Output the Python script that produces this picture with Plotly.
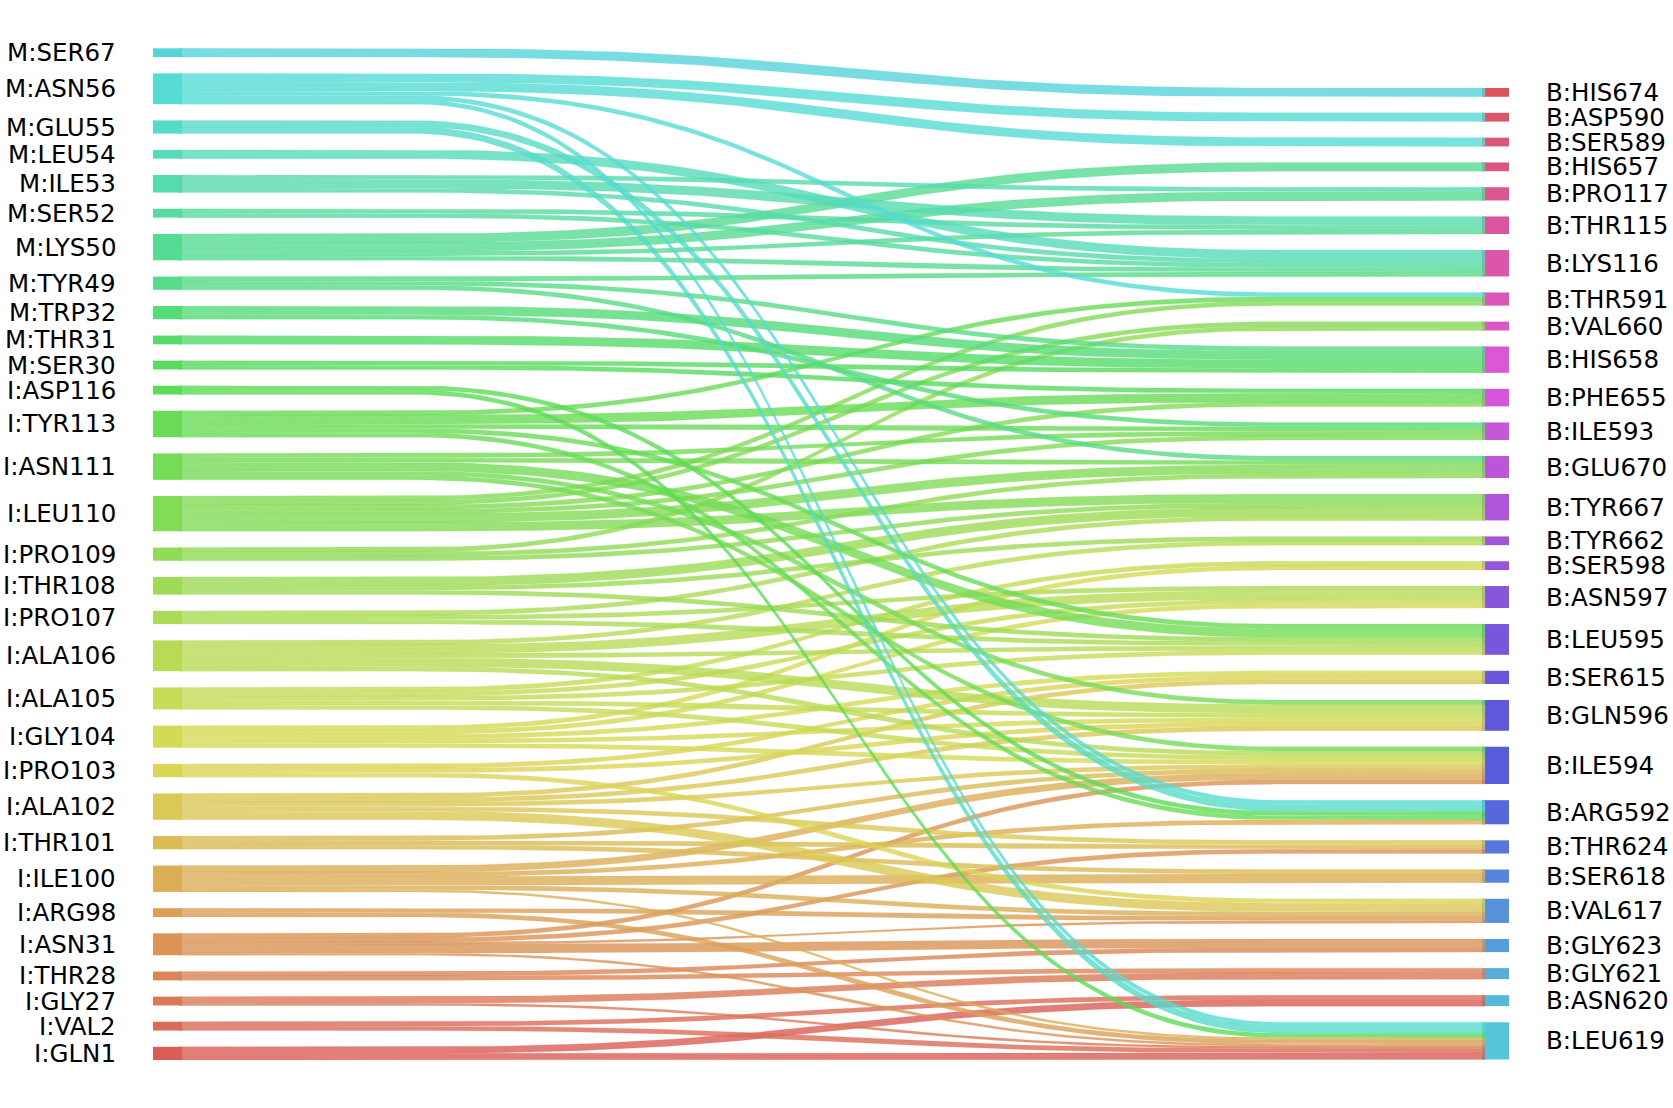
import colorsys
import numpy as np
import plotly.graph_objects as go

# ---------------- data ----------------
left_labels = ["M:SER67", "M:ASN56", "M:GLU55", "M:LEU54", "M:ILE53", "M:SER52", "M:LYS50",
               "M:TYR49", "M:TRP32", "M:THR31", "M:SER30", "I:ASP116", "I:TYR113", "I:ASN111",
               "I:LEU110", "I:PRO109", "I:THR108", "I:PRO107", "I:ALA106", "I:ALA105", "I:GLY104",
               "I:PRO103", "I:ALA102", "I:THR101", "I:ILE100", "I:ARG98", "I:ASN31", "I:THR28",
               "I:GLY27", "I:VAL2", "I:GLN1"]
right_labels = ["B:HIS674", "B:ASP590", "B:SER589", "B:HIS657", "B:PRO117", "B:THR115", "B:LYS116",
                "B:THR591", "B:VAL660", "B:HIS658", "B:PHE655", "B:ILE593", "B:GLU670", "B:TYR667",
                "B:TYR662", "B:SER598", "B:ASN597", "B:LEU595", "B:SER615", "B:GLN596", "B:ILE594",
                "B:ARG592", "B:THR624", "B:SER618", "B:VAL617", "B:GLY623", "B:GLY621", "B:ASN620",
                "B:LEU619"]

link_source = [
    "M:SER67",
    "M:ASN56", "M:ASN56", "M:ASN56", "M:ASN56", "M:ASN56",
    "M:GLU55", "M:GLU55",
    "M:LEU54",
    "M:ILE53", "M:ILE53", "M:ILE53",
    "M:SER52", "M:SER52",
    "M:LYS50", "M:LYS50", "M:LYS50", "M:LYS50",
    "M:TYR49", "M:TYR49", "M:TYR49",
    "M:TRP32", "M:TRP32",
    "M:THR31",
    "M:SER30", "M:SER30",
    "I:ASP116", "I:ASP116",
    "I:TYR113", "I:TYR113", "I:TYR113", "I:TYR113", "I:TYR113",
    "I:ASN111", "I:ASN111", "I:ASN111", "I:ASN111", "I:ASN111",
    "I:LEU110", "I:LEU110", "I:LEU110", "I:LEU110", "I:LEU110", "I:LEU110",
    "I:PRO109", "I:PRO109", "I:PRO109",
    "I:THR108", "I:THR108", "I:THR108",
    "I:PRO107", "I:PRO107", "I:PRO107",
    "I:ALA106", "I:ALA106", "I:ALA106", "I:ALA106", "I:ALA106",
    "I:ALA105", "I:ALA105", "I:ALA105", "I:ALA105", "I:ALA105",
    "I:GLY104", "I:GLY104", "I:GLY104", "I:GLY104", "I:GLY104",
    "I:PRO103", "I:PRO103", "I:PRO103",
    "I:ALA102", "I:ALA102", "I:ALA102", "I:ALA102", "I:ALA102",
    "I:THR101", "I:THR101", "I:THR101",
    "I:ILE100", "I:ILE100", "I:ILE100", "I:ILE100", "I:ILE100",
    "I:ARG98", "I:ARG98",
    "I:ASN31", "I:ASN31", "I:ASN31", "I:ASN31", "I:ASN31",
    "I:THR28", "I:THR28",
    "I:GLY27", "I:GLY27",
    "I:VAL2", "I:VAL2",
    "I:GLN1", "I:GLN1",
]
link_target = [
    "B:HIS674",
    "B:ASP590", "B:SER589", "B:THR591", "B:ARG592", "B:LEU619",
    "B:ARG592", "B:LEU619",
    "B:LYS116",
    "B:PRO117", "B:THR115", "B:LYS116",
    "B:THR115", "B:LYS116",
    "B:HIS657", "B:PRO117", "B:THR115", "B:LYS116",
    "B:LYS116", "B:HIS658", "B:GLU670",
    "B:HIS658", "B:ILE593",
    "B:HIS658",
    "B:HIS658", "B:PHE655",
    "B:ARG592", "B:LEU619",
    "B:THR591", "B:PHE655", "B:ILE593", "B:LEU595", "B:ARG592",
    "B:ILE593", "B:GLU670", "B:LEU595", "B:GLN596", "B:ILE594",
    "B:THR591", "B:VAL660", "B:PHE655", "B:ILE593", "B:GLU670", "B:TYR667",
    "B:VAL660", "B:GLU670", "B:TYR667",
    "B:TYR667", "B:TYR662", "B:LEU595",
    "B:TYR667", "B:ASN597", "B:LEU595",
    "B:TYR662", "B:ASN597", "B:LEU595", "B:GLN596", "B:ILE594",
    "B:SER598", "B:ASN597", "B:LEU595", "B:GLN596", "B:ILE594",
    "B:SER598", "B:ASN597", "B:SER615", "B:GLN596", "B:ILE594",
    "B:SER615", "B:GLN596", "B:VAL617",
    "B:SER615", "B:GLN596", "B:ILE594", "B:THR624", "B:VAL617",
    "B:ILE594", "B:THR624", "B:SER618",
    "B:ILE594", "B:ARG592", "B:SER618", "B:VAL617", "B:LEU619",
    "B:VAL617", "B:LEU619",
    "B:ILE594", "B:THR624", "B:GLY623", "B:VAL617", "B:LEU619",
    "B:GLY623", "B:GLY621",
    "B:GLY621", "B:LEU619",
    "B:ASN620", "B:LEU619",
    "B:ASN620", "B:LEU619",
]
link_value = [
    2,
    2, 2, 1, 1, 1,
    1.5, 1.5,
    2,
    1, 2, 1,
    1, 1,
    2, 2, 1, 1,
    1, 1, 1,
    2, 1,
    2,
    1, 1,
    1, 1,
    1, 2, 1, 1, 1,
    1, 1, 2, 1, 1,
    1, 1, 1, 1, 2, 2,
    1, 1, 1,
    2, 1, 1,
    1, 1, 1,
    1, 2, 1, 2, 1,
    1, 1, 1, 1, 1,
    1, 1, 1, 1, 1,
    1, 1, 1,
    1, 1, 1, 1, 2,
    1, 1, 1,
    1.5, 1, 2, 1, 0.5,
    1, 1,
    1, 1, 2, 0.5, 0.5,
    1, 1,
    1.5, 0.5,
    1, 1,
    1.5, 1.5,
]

# ---------------- layout constants ----------------
W, H = 1673, 1108
LEFT_TOP, LEFT_BOTTOM = 48.3, 1060.0
RIGHT_TOP, RIGHT_BOTTOM = 88.0, 1059.5
LNODE_X0, LNODE_X1 = 153.0, 182.0
RNODE_X0, RNODE_X1 = 1482.0, 1509.0
LINK_X0, LINK_X1 = 179.0, 1485.0
CURVE_A, CURVE_B = 415.0, 1275.0
LABEL_L_X, LABEL_R_X = 117.0, 1545.0
FONT = dict(family="DejaVu Sans", size=24.5, color="black")

# colours: hls palette (seaborn-like) around all nodes
n_nodes = len(left_labels) + len(right_labels)
hues = (np.linspace(0, 1, n_nodes + 1)[:-1] + 0.01) % 1


def hls(i, alpha=None):
    r, g, b = colorsys.hls_to_rgb(hues[i], 0.6, 0.65)
    if alpha is None:
        return "rgb(%d,%d,%d)" % (r * 255, g * 255, b * 255)
    return "rgba(%d,%d,%d,%.2f)" % (r * 255, g * 255, b * 255, alpha)


nL, nR = len(left_labels), len(right_labels)
left_idx = {lab: len(left_labels) - 1 - j for j, lab in enumerate(left_labels)}
right_idx = {lab: n_nodes - 1 - j for j, lab in enumerate(right_labels)}

left_tot = {lab: 0.0 for lab in left_labels}
right_tot = {lab: 0.0 for lab in right_labels}
for s, t, v in zip(link_source, link_target, link_value):
    left_tot[s] += v
    right_tot[t] += v
total = sum(link_value)

GAP_L = 16.3
unit = (LEFT_BOTTOM - LEFT_TOP - GAP_L * (nL - 1)) / total
GAP_R = (RIGHT_BOTTOM - RIGHT_TOP - unit * total) / (nR - 1)

left_y, y = {}, LEFT_TOP
for lab in left_labels:
    left_y[lab] = y
    y += left_tot[lab] * unit + GAP_L
right_y, y = {}, RIGHT_TOP
for lab in right_labels:
    right_y[lab] = y
    y += right_tot[lab] * unit + GAP_R

lpos = {lab: i for i, lab in enumerate(left_labels)}
rpos = {lab: i for i, lab in enumerate(right_labels)}
links = list(zip(link_source, link_target, link_value))

# stacking offsets
src_off = {}
for lab in left_labels:
    off = left_y[lab]
    for k in sorted([k for k, l in enumerate(links) if l[0] == lab], key=lambda k: rpos[links[k][1]]):
        src_off[k] = off
        off += links[k][2] * unit
tgt_off = {}
for lab in right_labels:
    off = right_y[lab]
    for k in sorted([k for k, l in enumerate(links) if l[1] == lab], key=lambda k: lpos[links[k][0]]):
        tgt_off[k] = off
        off += links[k][2] * unit

t = np.linspace(0, 1, 90)
bx = CURVE_A + (CURVE_B - CURVE_A) * (1.5 * t * (1 - t) + t ** 3)
by = 3 * t ** 2 - 2 * t ** 3

fig = go.Figure()
order = sorted(range(len(links)), key=lambda k: -lpos[links[k][0]])
for k in order:
    s, tg, v = links[k]
    h = v * unit
    y0, y1 = src_off[k], tgt_off[k]
    top_y = y0 + (y1 - y0) * by
    xs = np.concatenate([[LINK_X0], bx, [LINK_X1], [LINK_X1], bx[::-1], [LINK_X0]])
    ys = np.concatenate([[y0], top_y, [y1], [y1 + h], (top_y + h)[::-1], [y0 + h]])
    fig.add_trace(go.Scatter(x=xs, y=ys, mode="lines", fill="toself",
                             fillcolor=hls(left_idx[s], 0.8),
                             line=dict(width=0.6, color=hls(left_idx[s], 0.35)),
                             hoverinfo="skip", showlegend=False))

for lab in left_labels:
    y0 = left_y[lab]
    y1 = y0 + left_tot[lab] * unit
    fig.add_shape(type="rect", x0=LNODE_X0, x1=LNODE_X1, y0=y0, y1=y1,
                  fillcolor=hls(left_idx[lab]), line=dict(width=0), layer="below")
    fig.add_annotation(x=LABEL_L_X, y=(y0 + y1) / 2, text=lab, xanchor="right", yanchor="middle",
                       showarrow=False, font=FONT, borderpad=0)
for lab in right_labels:
    y0 = right_y[lab]
    y1 = y0 + right_tot[lab] * unit
    fig.add_shape(type="rect", x0=RNODE_X0, x1=RNODE_X1, y0=y0, y1=y1,
                  fillcolor=hls(right_idx[lab]), line=dict(width=0), layer="below")
    fig.add_annotation(x=LABEL_R_X, y=(y0 + y1) / 2, text=lab, xanchor="left", yanchor="middle",
                       showarrow=False, font=FONT, borderpad=0)

fig.update_layout(width=W, height=H, margin=dict(l=0, r=0, t=0, b=0),
                  paper_bgcolor="white", plot_bgcolor="white", showlegend=False)
fig.update_xaxes(range=[0, W], visible=False, fixedrange=True)
fig.update_yaxes(range=[H, 0], visible=False, fixedrange=True)

fig.write_html("out.html", config={"displayModeBar": False},
               post_script="document.body.style.margin='0';")
